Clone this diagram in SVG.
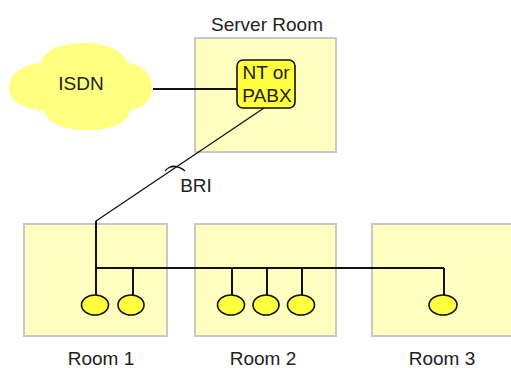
<svg xmlns="http://www.w3.org/2000/svg" width="511" height="368" viewBox="0 0 511 368">
<style>
.room{fill:#ffffc0;stroke:#c8c8c8;stroke-width:2}
.lbl{font-family:"Liberation Sans",Arial,sans-serif;font-size:19px;fill:#222;text-anchor:middle}
.wire{stroke:#111;stroke-width:2;fill:none}
.thin{stroke:#111;stroke-width:1.3;fill:none}
.phone{fill:#ffff40;stroke:#111;stroke-width:1.6}
</style>
<rect width="511" height="368" fill="#fff"/>
<g id="server-room">
<rect class="room" x="195" y="38" width="141" height="114"/>
<text class="lbl" x="267" y="31">Server Room</text>
</g>
<g id="room1">
<rect class="room" x="24" y="224" width="143" height="112"/>
<text class="lbl" x="101" y="365">Room 1</text>
</g>
<g id="room2">
<rect class="room" x="195" y="224" width="141" height="112"/>
<text class="lbl" x="263" y="365">Room 2</text>
</g>
<g id="room3">
<rect class="room" x="372" y="224" width="150" height="112"/>
<text class="lbl" x="442" y="365">Room 3</text>
</g>
<g id="isdn">
<path d="M9,88 C9,72 26,64 41,63 C44,49 62,43 84,43 C106,43 124,50 127,63 C141,64 152,73 152,88 C152,102 141,109 130,110 C129,123 111,130 88,130 C64,130 46,123 45,111 C24,109 9,102 9,88 Z" fill="#ffff80"/>
<text class="lbl" x="81" y="90">ISDN</text>
</g>
<g id="connectors">
<line class="wire" x1="153" y1="89" x2="237" y2="89"/>
<line class="thin" x1="264" y1="108" x2="96" y2="221"/>
<path class="thin" d="M165,171 Q171,164 178,167 M170,167 Q178,165 185,171"/>
<polyline class="wire" points="96,221 96,296"/>
<line class="wire" x1="96" y1="268" x2="444" y2="268"/>
<polyline class="wire" points="444,268 444,296"/>
<line class="wire" x1="133" y1="268" x2="133" y2="296"/>
<line class="wire" x1="232" y1="268" x2="232" y2="296"/>
<line class="wire" x1="267" y1="268" x2="267" y2="296"/>
<line class="wire" x1="302" y1="268" x2="302" y2="296"/>
</g>
<g id="nt-pabx">
<rect x="237" y="60" width="58" height="48" rx="6" fill="#ffff40" stroke="#111" stroke-width="1.6"/>
<text class="lbl" x="266" y="79">NT or</text>
<text class="lbl" x="267" y="102">PABX</text>
</g>
<text class="lbl" x="196" y="192">BRI</text>
<g id="phone1"><ellipse class="phone" cx="95" cy="305" rx="13.5" ry="10"/></g>
<g id="phone2"><ellipse class="phone" cx="131" cy="305" rx="13" ry="10"/></g>
<g id="phone3"><ellipse class="phone" cx="231" cy="305" rx="13.5" ry="10"/></g>
<g id="phone4"><ellipse class="phone" cx="266" cy="305" rx="13" ry="10"/></g>
<g id="phone5"><ellipse class="phone" cx="301" cy="305" rx="13.5" ry="10"/></g>
<g id="phone6"><ellipse class="phone" cx="443" cy="305" rx="14" ry="10"/></g>
</svg>
